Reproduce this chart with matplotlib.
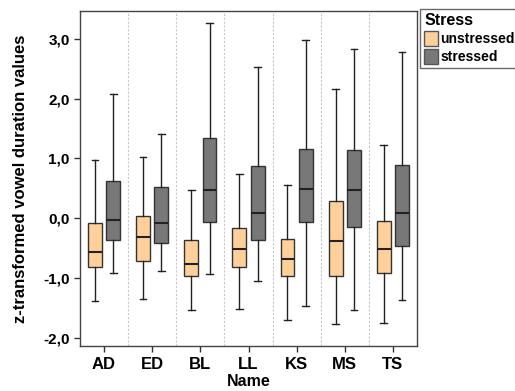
import matplotlib
matplotlib.use("Agg")
import matplotlib.pyplot as plt
from matplotlib.patches import Patch

plt.rcParams['font.family'] = ['Liberation Sans', 'DejaVu Sans']

names = ["AD", "ED", "BL", "LL", "KS", "MS", "TS"]

# unstressed stats
un_whislo = [-1.38, -1.36, -1.54, -1.52, -1.70, -1.77, -1.76]
un_q1     = [-0.82, -0.72, -0.97, -0.81, -0.97, -0.97, -0.91]
un_med    = [-0.57, -0.32, -0.77, -0.52, -0.69, -0.38, -0.51]
un_q3     = [-0.08,  0.04, -0.37, -0.16, -0.34,  0.28, -0.04]
un_whishi = [ 0.97,  1.02,  0.48,  0.74,  0.56,  2.16,  1.22]

# stressed stats
st_whislo = [-0.91, -0.88, -0.94, -1.05, -1.47, -1.54, -1.37]
st_q1     = [-0.36, -0.42, -0.06, -0.37, -0.07, -0.14, -0.47]
st_med    = [-0.03, -0.08,  0.48,  0.09,  0.49,  0.47,  0.08]
st_q3     = [ 0.62,  0.52,  1.35,  0.87,  1.16,  1.14,  0.89]
st_whishi = [ 2.08,  1.41,  3.27,  2.53,  2.98,  2.83,  2.79]

yticks = [-2.0, -1.0, 0.0, 1.0, 2.0, 3.0]
ytick_labels = ["-2,0", "-1,0", "0,0", "1,0", "2,0", "3,0"]

c_un = "#FFD09A"
c_st = "#787878"

fig = plt.figure(figsize=(5.15, 3.91), dpi=100)
ax = fig.add_axes([80/515, 1 - 346/391, 337/515, 335/391])

def stats(lo, q1, med, q3, hi):
    return [dict(whislo=a, q1=b, med=c, q3=d, whishi=e, fliers=[])
            for a, b, c, d, e in zip(lo, q1, med, q3, hi)]

pos = list(range(len(names)))
off = 0.19
w = 0.29
for st, color, sign in [
    (stats(un_whislo, un_q1, un_med, un_q3, un_whishi), c_un, -1),
    (stats(st_whislo, st_q1, st_med, st_q3, st_whishi), c_st, 1),
]:
    ax.bxp(st, positions=[p + sign * off for p in pos], widths=w,
           patch_artist=True, showfliers=False, manage_ticks=False,
           capwidths=0.14,
           boxprops=dict(facecolor=color, edgecolor="#333333", linewidth=1.0),
           medianprops=dict(color="#222222", linewidth=1.5),
           whiskerprops=dict(color="#222222", linewidth=1.0),
           capprops=dict(color="#222222", linewidth=1.0))

for b in range(1, len(names)):
    ax.axvline(b - 0.5, color="#c8c8c8", linestyle=(0, (2, 1.5)), linewidth=0.8, zorder=0)

ax.set_xlim(-0.5, len(names) - 0.5)
ax.set_ylim(-2.14, 3.47)
ax.set_xticks(pos)
ax.set_xticklabels(names, fontsize=12, fontweight="bold")
ax.set_yticks(yticks)
ax.set_yticklabels(ytick_labels, fontsize=11, fontweight="bold")
ax.tick_params(axis="both", direction="out", length=4, width=1, color="#333333")
ax.tick_params(axis="x", pad=4)
for s in ax.spines.values():
    s.set_color("#444444")
    s.set_linewidth(1.0)

ax.set_xlabel("Name", fontsize=11.5, fontweight="bold", labelpad=1)
ax.set_ylabel("z-transformed vowel duration values", fontsize=12, fontweight="bold", labelpad=11)

handles = [Patch(facecolor=c_un, edgecolor="#555555", label="unstressed"),
           Patch(facecolor=c_st, edgecolor="#555555", label="stressed")]
leg = fig.legend(handles=handles, title="Stress", loc="upper left",
                 bbox_to_anchor=(420/515, 1 - 9/391), frameon=True,
                 fancybox=False, edgecolor="#444444",
                 prop=dict(size=10, weight="bold"),
                 title_fontproperties=dict(size=11.5, weight="bold"),
                 alignment="left", handlelength=1.0, handleheight=1.3,
                 handletextpad=0.15, borderpad=0.3, labelspacing=0.2,
                 borderaxespad=0)
leg.get_frame().set_linewidth(1.0)

fig.savefig("out.png", dpi=100)
